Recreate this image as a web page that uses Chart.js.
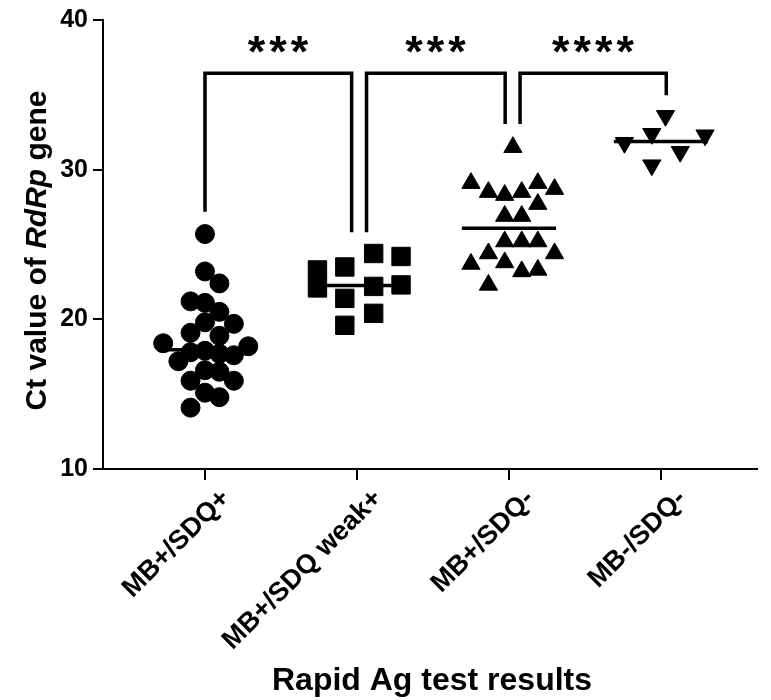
<!DOCTYPE html>
<html><head><meta charset="utf-8">
<script src="https://cdn.jsdelivr.net/npm/chart.js@4/dist/chart.umd.min.js"></script>
<style>html,body{margin:0;padding:0;background:#fff;}#wrap{width:771px;height:700px;position:relative;}</style>
</head><body><div id="wrap"><canvas id="c" width="771" height="700"></canvas></div>
<script>
// ---------- data ----------
const categories = ['MB+/SDQ+', 'MB+/SDQ weak+', 'MB+/SDQ-', 'MB-/SDQ-'];
const yTicks = [10, 20, 30, 40];
const ctPosPos  = [25.7, 23.2, 22.4, 21.2, 21.1, 20.5, 19.8, 19.7, 19.1, 18.9, 18.4, 18.2, 17.8, 17.9, 17.7, 17.6, 17.2, 16.6, 16.5, 15.9, 15.9, 15.1, 14.8, 14.1];
const ctPosWeak = [23.3, 22.1, 23.5, 24.4, 24.2, 21.4, 22.2, 22.3, 20.4, 19.6];
const ctPosNeg  = [31.5, 29.1, 28.5, 28.3, 28.5, 29.1, 28.7, 27.7, 26.9, 26.9, 25.2, 25.2, 25.2, 24.4, 24.4, 23.7, 23.8, 23.2, 23.3, 22.3];
const ctNegNeg  = [33.6, 32.4, 31.8, 31.2, 30.3, 32.3];
const medians   = [17.97, 22.26, 26.08, 31.88];
const sigPairs  = [[0, 1], [1, 2], [2, 3]];
const sigLabels = ['***', '***', '****'];

// ---------- layout (horizontal scatter of the dots, in category units) ----------
const jitterPosPos  = [0, 0, 0.095, -0.095, 0, 0.095, 0, 0.19, -0.095, 0.095, -0.275, 0.285, -0.095, 0, 0.095, 0.19, -0.175, 0, 0.095, -0.095, 0.19, 0, 0.095, -0.095];
const jitterPosWeak = [-0.26, -0.26, -0.08, 0.11, 0.29, -0.08, 0.11, 0.29, 0.11, -0.08];
const jitterPosNeg  = [0.026, -0.25, -0.135, -0.028, 0.084, 0.19, 0.30, 0.19, -0.028, 0.084, -0.028, 0.084, 0.19, -0.135, 0.30, -0.25, -0.028, 0.084, 0.19, -0.135];
const jitterNegNeg  = [0.03, -0.06, -0.24, 0.127, -0.06, 0.29];

const FONT = '"Liberation Sans", Arial, Helvetica, sans-serif';
const MEDIAN_HALF = 0.31;
// bracket geometry: leg x offsets (category units) and leg end / top positions (y units)
const BRACKET = [
  { l: 0.0,   r: -0.035, yl: 27.19, yr: 25.82 },
  { l: 0.063, r: -0.025, yl: 25.82, yr: 33.05 },
  { l: 0.073, r: 0.035,  yl: 33.05, yr: 34.98 }
];
const BRACKET_TOP = 36.44;
const STAR_Y = 38.35;

const groups = [
  { values: ctPosPos,  jitter: jitterPosPos,  style: 'circle',   radius: 9.5, rot: 0 },
  { values: ctPosWeak, jitter: jitterPosWeak, style: 'rect',     radius: 13,  rot: 0 },
  { values: ctPosNeg,  jitter: jitterPosNeg,  style: 'triangle', radius: 10.5, rot: 0 },
  { values: ctNegNeg,  jitter: jitterNegNeg,  style: 'triangle', radius: 10.5, rot: 180 }
];

const datasets = [];
groups.forEach((g, i) => {
  datasets.push({
    type: 'line',
    data: [{ x: i - MEDIAN_HALF, y: medians[i] }, { x: i + MEDIAN_HALF, y: medians[i] }],
    borderColor: '#000', borderWidth: 3.5, pointRadius: 0, fill: false, clip: false
  });
  datasets.push({
    type: 'scatter',
    data: g.values.map((v, k) => ({ x: i + g.jitter[k], y: v })),
    pointStyle: g.style, pointRadius: g.radius, pointRotation: g.rot,
    backgroundColor: '#000', borderColor: '#000', borderWidth: 1, clip: false
  });
});

function drawStars(ctx, s, cx, cy) {
  ctx.font = `bold 100px ${FONT}`;
  const m = ctx.measureText('*');
  const w = m.actualBoundingBoxLeft + m.actualBoundingBoxRight;
  const size = 100 * 17.5 / w;
  ctx.font = `bold ${size}px ${FONT}`;
  const m2 = ctx.measureText('*');
  ctx.textAlign = 'left';
  ctx.textBaseline = 'alphabetic';
  const n = s.length, sp = 21.5;
  for (let i = 0; i < n; i++) {
    const gx = cx + (i - (n - 1) / 2) * sp;
    const x = gx - (m2.actualBoundingBoxRight - m2.actualBoundingBoxLeft) / 2;
    const y = cy + (m2.actualBoundingBoxAscent - m2.actualBoundingBoxDescent) / 2;
    ctx.fillText(s[i], x, y);
  }
}

const annot = {
  id: 'annot',
  afterDraw(chart) {
    const ctx = chart.ctx, xs = chart.scales.x, ys = chart.scales.y, ca = chart.chartArea;
    ctx.save();
    ctx.strokeStyle = '#000'; ctx.fillStyle = '#000';
    ctx.lineWidth = 3.5; ctx.lineJoin = 'miter'; ctx.lineCap = 'butt';
    sigPairs.forEach((p, k) => {
      const g = BRACKET[k];
      const xl = xs.getPixelForValue(p[0] + g.l), xr = xs.getPixelForValue(p[1] + g.r);
      const yt = ys.getPixelForValue(BRACKET_TOP);
      ctx.beginPath();
      ctx.moveTo(xl, ys.getPixelForValue(g.yl));
      ctx.lineTo(xl, yt);
      ctx.lineTo(xr, yt);
      ctx.lineTo(xr, ys.getPixelForValue(g.yr));
      ctx.stroke();
      drawStars(ctx, sigLabels[k], (xl + xr) / 2, ys.getPixelForValue(STAR_Y));
    });

    // y title with italic gene name
    const parts = [['Ct value of ', false], ['RdRp', true], [' gene', false]];
    const fs = 30;
    let total = 0;
    const widths = parts.map(([t, it]) => {
      ctx.font = `${it ? 'italic ' : ''}bold ${fs}px ${FONT}`;
      const w = ctx.measureText(t).width; total += w; return w;
    });
    ctx.save();
    ctx.translate(46, (ca.top + ca.bottom) / 2 + 6);
    ctx.rotate(-Math.PI / 2);
    ctx.textAlign = 'left'; ctx.textBaseline = 'alphabetic';
    let x = -total / 2;
    parts.forEach(([t, it], i) => {
      ctx.font = `${it ? 'italic ' : ''}bold ${fs}px ${FONT}`;
      ctx.fillText(t, x, 0);
      x += widths[i];
    });
    ctx.restore();

    // x title
    ctx.font = `bold 32px ${FONT}`;
    ctx.textAlign = 'center'; ctx.textBaseline = 'alphabetic';
    ctx.fillText('Rapid Ag test results', 432, 690);
    ctx.restore();
  }
};

new Chart(document.getElementById('c'), {
  data: { datasets },
  options: {
    responsive: false, animation: false,
    layout: { padding: { top: 17, right: 1, left: 0, bottom: 0 } },
    plugins: { legend: { display: false }, tooltip: { enabled: false } },
    scales: {
      x: {
        type: 'linear', min: -0.671, max: 3.632,
        afterBuildTicks: s => { s.ticks = categories.map((c, i) => ({ value: i })); },
        afterFit: s => { s.height = 231; },
        grid: { drawOnChartArea: false, color: '#000', lineWidth: 2, tickLength: 11 },
        border: { display: true, color: '#000', width: 2 },
        ticks: {
          callback: v => categories[v], autoSkip: false,
          minRotation: 45, maxRotation: 45, color: '#000', padding: 3, labelOffset: 21,
          font: { family: FONT, size: 27, weight: 'bold' }
        }
      },
      y: {
        type: 'linear', min: 10, max: 40,
        afterBuildTicks: s => { s.ticks = yTicks.map(v => ({ value: v })); },
        afterFit: s => { s.width = 103; },
        grid: { drawOnChartArea: false, color: '#000', lineWidth: 2, tickLength: 10 },
        border: { display: true, color: '#000', width: 2 },
        ticks: { color: '#000', padding: 5, font: { family: FONT, size: 25, weight: 'bold' } }
      }
    }
  },
  plugins: [annot]
});
</script>
</body></html>
